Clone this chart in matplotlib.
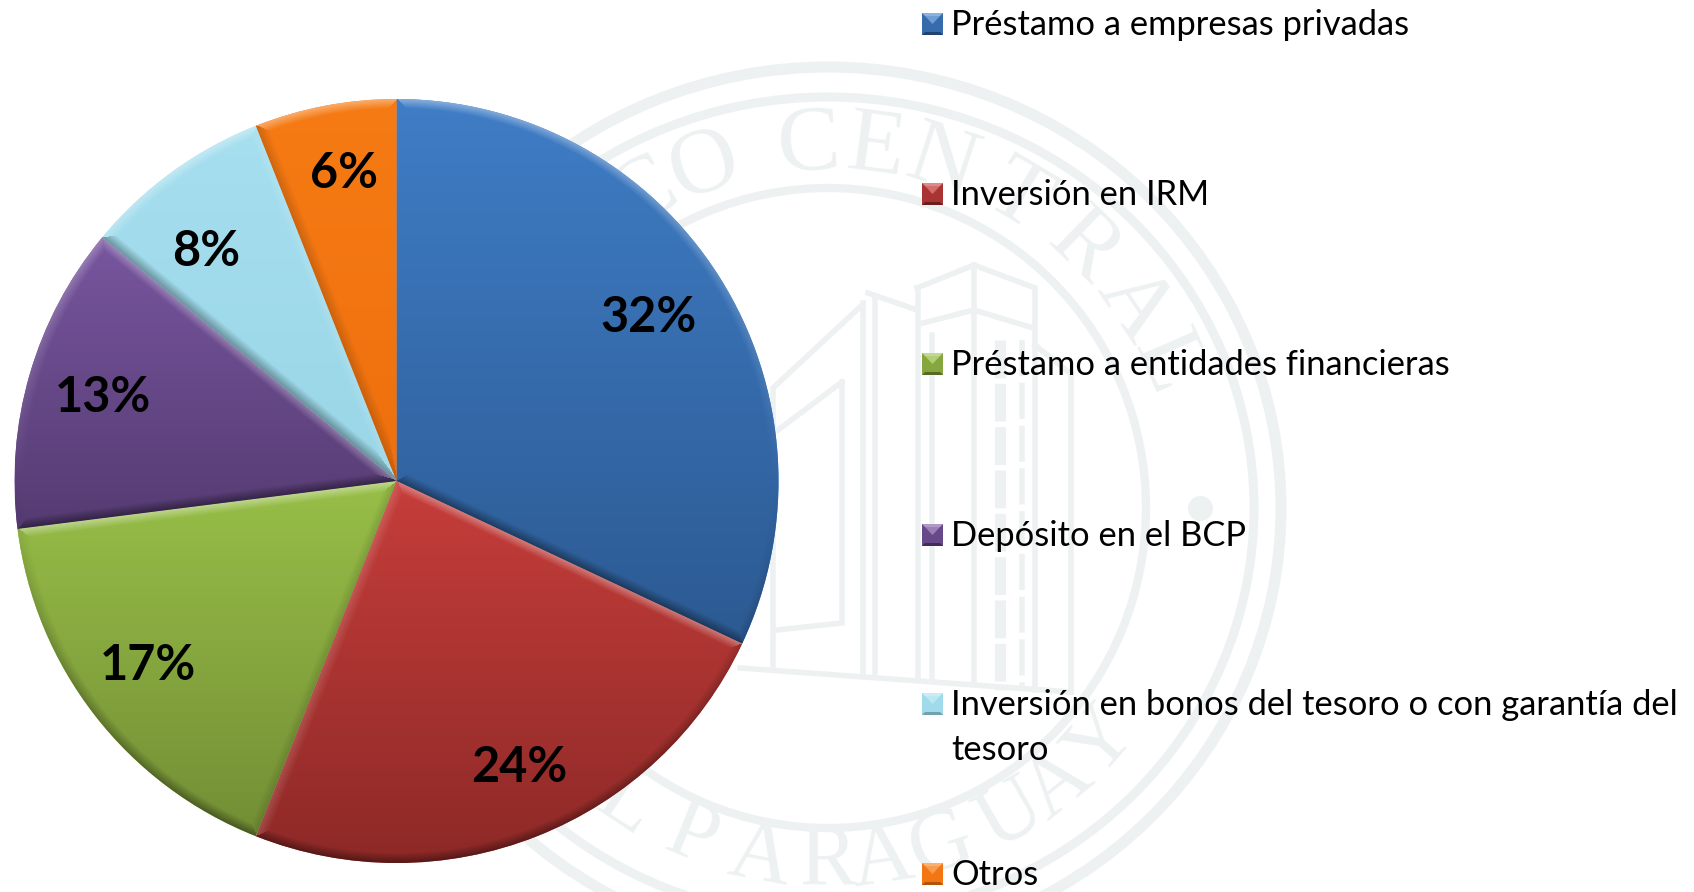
import numpy as np
import matplotlib
matplotlib.use('Agg')
import matplotlib.pyplot as plt
from matplotlib.patches import Ellipse, Polygon

# Data
categories = ['Préstamo a empresas privadas', 'Inversión en IRM', 'Préstamo a entidades financieras',
              'Depósito en el BCP', 'Inversión en bonos del tesoro o con garantía del\ntesoro', 'Otros']
values = [32, 24, 17, 13, 8, 6]

# Colours per slice: top of gradient, bottom of gradient
colors_top = ['#3F7DC6', '#C63E3B', '#98BF48', '#78569F', '#A6DFEF', '#F67B14']
colors_bottom = ['#2C5A92', '#8D2927', '#738E35', '#553B72', '#9AD6E7', '#EE700E']

# Hand placed percent labels, legend rows (image pixels, y going down)
label_xy = [(649, 318), (519, 767), (148, 665), (103, 397), (206, 251), (344, 173)]
legend_base = [35, 205, 375, 546, 715, 885]

W, H = 1694, 892
WM = '#EDF1F2'
plt.rcParams['font.family'] = ['Lato', 'DejaVu Sans']

fig = plt.figure(figsize=(W / 100, H / 100), dpi=100)
ax = fig.add_axes([0, 0, 1, 1])


def up(y):
    return H - y


def hex_rgb(c):
    return np.array(matplotlib.colors.to_rgb(c))


# Watermark seal behind the chart
cx, cy = 828, 508
for rx, ry, lw in [(453, 441, 8), (426, 411, 6.5), (318, 320, 6)]:
    ax.add_patch(Ellipse((cx, up(cy)), 2 * rx, 2 * ry, fill=False, ec=WM, lw=lw, zorder=0))

top_letters = 'COCENTRAL'
top_angles = [-30, -19.6, -3, 7.4, 18, 31, 44, 56, 66.5]
for ch, a in zip(top_letters, top_angles):
    t = np.radians(a)
    ax.text(cx + 368 * np.sin(t), up(cy) + 362 * np.cos(t), ch, rotation=-a, fontsize=68, color=WM,
            family='Liberation Serif', ha='center', va='center', rotation_mode='anchor', zorder=0)

bottom_letters = 'LPARAGUAY'
bottom_angles = [-33.5, -22, -10.7, 0, 8.5, 18, 30, 39, 48.7]
for ch, a in zip(bottom_letters, bottom_angles):
    t = np.radians(a)
    ax.text(cx + 366 * np.sin(t), up(cy) - 356 * np.cos(t), ch, rotation=a, fontsize=62, color=WM,
            family='Liberation Serif', ha='center', va='center', rotation_mode='anchor', zorder=0)

building = [
    [(917, 288), (974, 265), (1035, 288), (1035, 690)],
    [(923, 323), (974, 310), (1030, 327)],
    [(974, 265), (974, 680)],
    [(918, 288), (918, 678)],
    [(932, 335), (932, 678)],
    [(868, 293), (917, 310)],
    [(863, 303), (863, 675)],
    [(875, 296), (875, 675)],
    [(860, 307), (773, 388), (773, 665)],
    [(842, 382), (778, 430)],
    [(842, 382), (842, 623), (777, 630)],
    [(1035, 345), (1071, 374), (1071, 692)],
    [(740, 668), (1071, 692)],
]
for seg in building:
    xs = [p[0] for p in seg]
    ys = [up(p[1]) for p in seg]
    ax.plot(xs, ys, color=WM, lw=4, solid_joinstyle='miter', zorder=0)
ax.plot([1000, 1000], [up(340), up(690)], color=WM, lw=8, ls=(0, (3.4, 0.5)), zorder=0)
ax.plot([1022, 1022], [up(340), up(690)], color=WM, lw=4, ls=(0, (6.5, 1.2)), zorder=0)
ax.plot([1200], [up(508)], 'o', color=WM, ms=17, zorder=0)

# Pie
pcx, pcy, R = 396.5, up(481), 382
wedges, _, autotexts = ax.pie(values, center=(pcx, pcy), radius=R, startangle=90, counterclock=False,
                              colors=colors_top, autopct='%d%%', frame=True,
                              textprops=dict(fontsize=35, fontweight='bold', color='black'))
for txt, (lx, ly) in zip(autotexts, label_xy):
    txt.set_position((lx, up(ly)))
    txt.set_ha('center')
    txt.set_va('center')
    txt.set_zorder(6)

# Gradient with a bevel along the slice edges, clipped to each wedge
bevel = 10.0
yy, xx = np.mgrid[pcy - R:pcy + R:1.0, pcx - R:pcx + R:1.0]
dx, dy = xx - pcx, yy - pcy
rr = np.hypot(dx, dy) + 1e-6
for w, c1, c2 in zip(wedges, colors_top, colors_bottom):
    a1, a2 = np.radians(w.theta1), np.radians(w.theta2)
    ang = np.mod(np.arctan2(dy, dx) - a1, 2 * np.pi)
    inside = ang <= (a2 - a1)
    y_in = yy[inside & (rr <= R)]
    # frac 0 at the bottom of the slice, 1 at the top
    frac = np.clip((yy - y_in.min()) / (y_in.max() - y_in.min()), 0, 1)[..., None]
    img = hex_rgb(c2) * (1 - frac) + hex_rgb(c1) * frac

    d_arc = R - rr
    d_1 = dx * np.sin(a1) * -1 + dy * np.cos(a1)
    d_2 = dx * np.sin(a2) - dy * np.cos(a2)
    n_arc = dy / rr
    n_1 = np.full_like(dy, -np.cos(a1))
    n_2 = np.full_like(dy, np.cos(a2))
    dist = np.stack([d_arc, d_1, d_2])
    norm = np.stack([n_arc, n_1, n_2])
    pick = np.argmin(dist, axis=0)
    d = np.take_along_axis(dist, pick[None], 0)[0]
    n = np.take_along_axis(norm, pick[None], 0)[0]
    shade = (n * np.clip(1 - d / bevel, 0, 1))[..., None]
    img = np.where(shade > 0, img + (1 - img) * shade * 0.4, img * (1 + shade * 0.4))

    im = ax.imshow(img, extent=(pcx - R, pcx + R, pcy - R, pcy + R), origin='lower', aspect='auto',
                   zorder=2, interpolation='bilinear')
    im.set_clip_path(w)

# Legend rows with small bevelled squares
for name, base, c1, c2 in zip(categories, legend_base, colors_top, colors_bottom):
    x0, x1 = 922, 943
    y0, y1 = up(base), up(base - 22)
    mid = (hex_rgb(c1) + hex_rgb(c2)) / 2
    ix0, ix1, iy0, iy1 = x0 + 3, x1 - 3, y0 + 3, y1 - 3
    ax.add_patch(Polygon([(x0, y0), (x1, y0), (x1, y1), (x0, y1)], fc=mid, ec='none', zorder=3))
    ax.add_patch(Polygon([(x0, y1), (x1, y1), (ix1, iy1), (ix0, iy1)], fc=hex_rgb(c1) + (1 - hex_rgb(c1)) * 0.4,
                         ec='none', zorder=4))
    ax.add_patch(Polygon([(x0, y0), (x1, y0), (ix1, iy0), (ix0, iy0)], fc=hex_rgb(c2) * 0.75, ec='none', zorder=4))
    ax.add_patch(Polygon([(ix0, iy1), (ix1, iy1), ((ix0 + ix1) / 2, (iy0 + iy1) / 2)],
                         fc=hex_rgb(c1) + (1 - hex_rgb(c1)) * 0.25, ec='none', zorder=4))
    lines = name.split('\n')
    for i, line in enumerate(lines):
        ax.text(951, up(base + 45 * i), line, fontsize=24.8, color='black', ha='left', va='baseline', zorder=6)

ax.set_xlim(0, W)
ax.set_ylim(0, H)
ax.axis('off')

plt.savefig('out.png', dpi=100)
